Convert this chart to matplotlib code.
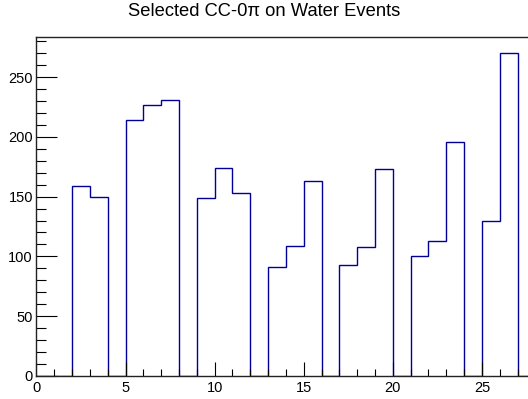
import matplotlib
matplotlib.use("Agg")
import matplotlib.pyplot as plt
import numpy as np
from matplotlib.ticker import MultipleLocator

plt.rcParams['font.family'] = ['Liberation Sans', 'DejaVu Sans']

title = "Selected CC-0\u03c0 on Water Events"
bin_edges = list(range(0, 29))
counts = [0, 0, 159, 150, 0, 214, 227, 231, 0, 149, 174, 153, 0, 91, 109, 163,
          0, 93, 108, 173, 0, 100, 113, 196, 0, 130, 270, 0]
x_ticks = [0, 5, 10, 15, 20, 25]
y_ticks = [0, 50, 100, 150, 200, 250]

W, H = 528, 399
fig = plt.figure(figsize=(W / 100, H / 100), dpi=100)
left_px, right_px, top_px, bottom_px = 36.4, 535.4, 37.3, 375.7
ax = fig.add_axes([left_px / W, 1 - bottom_px / H,
                   (right_px - left_px) / W, (bottom_px - top_px) / H])

ax.stairs(counts, bin_edges, color='#000099', linewidth=1.0, baseline=0)

ax.set_xlim(0, 28)
ax.set_ylim(0, max(counts) * 1.05)
ax.set_xticks(x_ticks)
ax.set_yticks(y_ticks)
ax.xaxis.set_minor_locator(MultipleLocator(1))
ax.yaxis.set_minor_locator(MultipleLocator(10))
ax.tick_params(axis='both', which='both', direction='in', top=False, right=False,
               labelsize=10.5, colors='black', width=0.8)
ax.tick_params(axis='x', which='major', length=10, pad=3.5)
ax.tick_params(axis='x', which='minor', length=5)
ax.tick_params(axis='y', which='major', length=15, pad=2.5)
ax.tick_params(axis='y', which='minor', length=7.5)
for s in ['top', 'left', 'bottom']:
    ax.spines[s].set_linewidth(1.0)
    ax.spines[s].set_color('#222222')
ax.spines['right'].set_visible(False)

fig.text(0.5, 1 - 11 / H, title, ha='center', va='center', fontsize=13.2)

fig.savefig("out.png", dpi=100)
